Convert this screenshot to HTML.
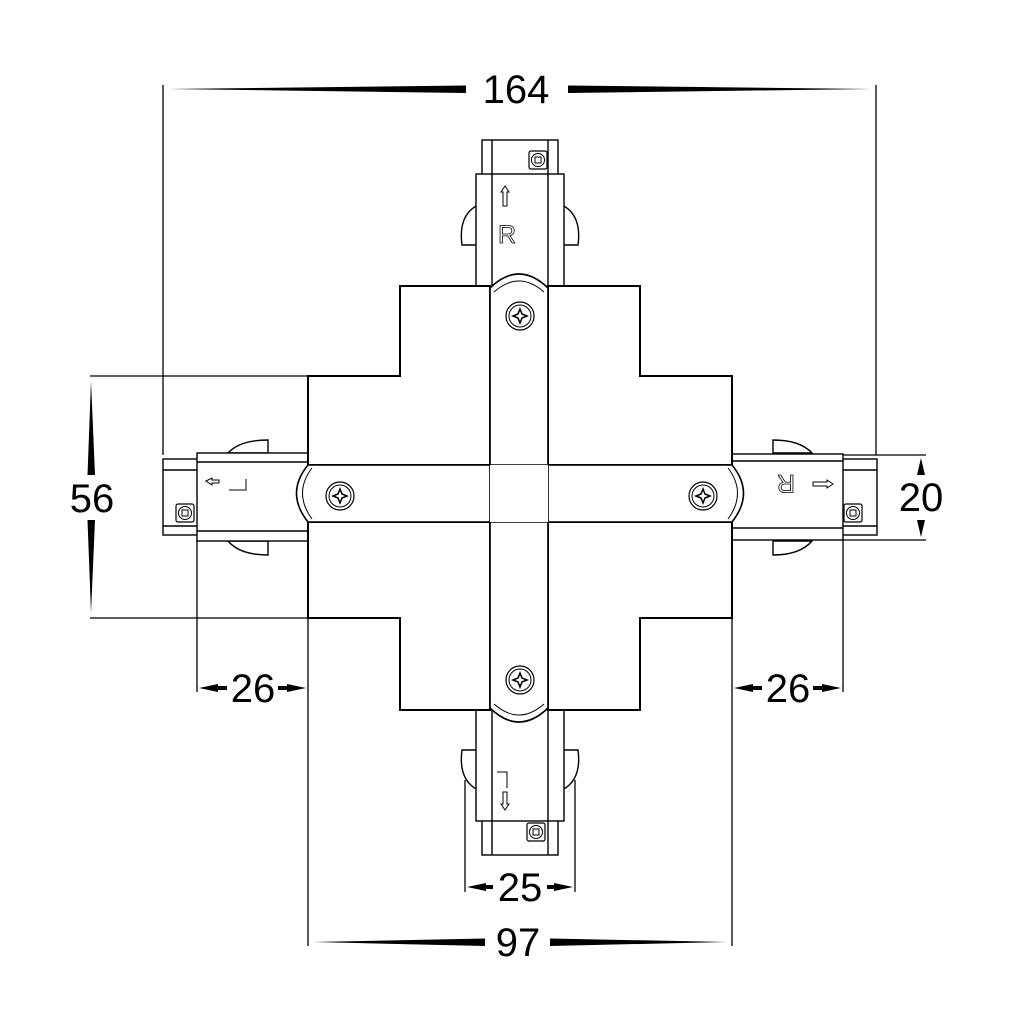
<!DOCTYPE html>
<html><head><meta charset="utf-8"><style>html,body{margin:0;padding:0;background:#fff}svg{display:block}</style></head><body>
<svg width="1024" height="1024" viewBox="0 0 1024 1024" xmlns="http://www.w3.org/2000/svg" font-family="Liberation Sans, sans-serif">
<defs>
<g id="scr"><circle r="14" fill="#fff" stroke="#000" stroke-width="1.2"/><circle r="11" fill="none" stroke="#000" stroke-width="1"/><path d="M0,-7 L2,-2 L7,0 L2,2 L0,7 L-2,2 L-7,0 L-2,-2Z" fill="none" stroke="#000" stroke-width="1.5"/></g>
<g id="ss"><rect x="-9" y="-9" width="18" height="18" rx="2" fill="#fff" stroke="#000" stroke-width="1.2"/><circle r="6.5" fill="none" stroke="#000" stroke-width="1"/><rect x="-3" y="-3" width="6" height="6" fill="none" stroke="#000" stroke-width="1"/></g>
</defs>
<g fill="none" stroke="#000" stroke-width="1.3">
<line x1="163" y1="85" x2="163" y2="455"/><line x1="876" y1="85" x2="876" y2="455"/>
<line x1="90" y1="376" x2="308" y2="376"/><line x1="90" y1="618" x2="308" y2="618"/>
<line x1="843" y1="455" x2="926" y2="455"/><line x1="843" y1="540" x2="926" y2="540"/>
<line x1="197" y1="540" x2="197" y2="692"/><line x1="843" y1="540" x2="843" y2="692"/>
<line x1="308" y1="618" x2="308" y2="946"/><line x1="732" y1="618" x2="732" y2="946"/>
<line x1="465" y1="780" x2="465" y2="892"/><line x1="575" y1="780" x2="575" y2="892"/>
</g>
<g fill="#000">
<polygon points="168,89 466,85.5 466,93"/><polygon points="871,89 568,85.5 568,93"/>
<polygon points="313,942 485,938.5 485,946"/><polygon points="727,942 550,938.5 550,946"/>
<polygon points="91,381 87.5,475 95,475"/><polygon points="91,613 87.5,520 95,520"/>
<polygon points="921,458 917,475 925,475"/><polygon points="921,537 917,520 925,520"/>
<polygon points="199,688 218,684 218,692"/><rect x="217" y="686" width="10" height="4"/>
<polygon points="306,688 287,684 287,692"/><rect x="278" y="686" width="10" height="4"/>
<polygon points="734,688 753,684 753,692"/><rect x="752" y="686" width="10" height="4"/>
<polygon points="841,688 822,684 822,692"/><rect x="813" y="686" width="10" height="4"/>
<polygon points="467,887 486,883 486,891"/><rect x="485" y="885" width="8" height="4"/>
<polygon points="573,887 554,883 554,891"/><rect x="547" y="885" width="8" height="4"/>
</g>
<g font-size="40" text-anchor="middle" fill="#000">
<text x="516" y="103">164</text>
<text x="92" y="512">56</text>
<text x="921" y="511">20</text>
<text x="253" y="702">26</text>
<text x="788" y="702">26</text>
<text x="520" y="901">25</text>
<text x="518" y="956">97</text>
</g>
<g fill="#fff" stroke="#000" stroke-width="1.4">
<path d="M462,245 Q458,215 478,205 L478,245Z"/><path d="M578,245 Q582,215 562,205 L562,245Z"/>
<rect x="482" y="140" width="76" height="35"/>
<line x1="492" y1="140" x2="492" y2="175"/><line x1="548" y1="140" x2="548" y2="175"/>
<rect x="476" y="174" width="88" height="114"/>
<line x1="492" y1="174" x2="492" y2="288"/><line x1="548" y1="174" x2="548" y2="288"/>
<path d="M462,750 Q458,780 478,790 L478,750Z"/><path d="M578,750 Q582,780 562,790 L562,750Z"/>
<rect x="482" y="820" width="76" height="35"/>
<line x1="492" y1="820" x2="492" y2="855"/><line x1="548" y1="820" x2="548" y2="855"/>
<rect x="476" y="708" width="88" height="113"/>
<line x1="492" y1="708" x2="492" y2="821"/><line x1="548" y1="708" x2="548" y2="821"/>
<path d="M228,453 Q240,440 268,440 L268,453Z"/><path d="M228,541 Q240,555 268,555 L268,541Z"/>
<rect x="163" y="459" width="35" height="76"/>
<line x1="163" y1="470" x2="198" y2="470"/><line x1="163" y1="526" x2="198" y2="526"/>
<rect x="197" y="453" width="112" height="88"/>
<line x1="197" y1="462" x2="309" y2="462"/><line x1="197" y1="531" x2="309" y2="531"/>
<path d="M812,453 Q800,440 773,440 L773,453Z"/><path d="M812,541 Q800,555 773,555 L773,541Z"/>
<rect x="842" y="459" width="35" height="76"/>
<line x1="842" y1="470" x2="877" y2="470"/><line x1="842" y1="526" x2="877" y2="526"/>
<rect x="731" y="454" width="112" height="86"/>
<line x1="731" y1="461" x2="843" y2="461"/><line x1="731" y1="528" x2="843" y2="528"/>
</g>
<g fill="#fff" stroke="#000" stroke-width="2">
<path d="M400,286 L490,286 L490,465 L308,465 L308,376 L400,376Z"/>
<path d="M640,286 L548,286 L548,465 L732,465 L732,376 L640,376Z"/>
<path d="M400,710 L490,710 L490,522 L308,522 L308,618 L400,618Z"/>
<path d="M640,710 L548,710 L548,522 L732,522 L732,618 L640,618Z"/>
</g>
<g fill="#fff" stroke="#000" stroke-width="1.6">
<path d="M490,288 Q519,260 548,288 L548,465 L490,465Z"/>
<path d="M490,708 Q519,736 548,708 L548,522 L490,522Z"/>
<path d="M308,465 Q285,493 308,522 L490,522 L490,465Z"/>
<path d="M732,465 Q755,493 732,522 L548,522 L548,465Z"/>
<rect x="490" y="465" width="58" height="57" stroke="none"/>
</g>
<g fill="none" stroke="#000" stroke-width="1">
<path d="M494,292 Q519,270 544,292"/><path d="M494,704 Q519,726 544,704"/>
<path d="M312,468 Q293,493 312,519"/><path d="M728,468 Q747,493 728,519"/>
</g>
<use href="#scr" x="520" y="316"/><use href="#scr" x="520" y="680"/>
<use href="#scr" x="340" y="496"/><use href="#scr" x="703" y="496"/>
<use href="#ss" x="538" y="160"/><use href="#ss" x="536" y="832"/>
<use href="#ss" x="185" y="513"/><use href="#ss" x="853" y="513"/>
<g fill="none" stroke="#000" stroke-width="1">
<path d="M505,186 L509,192 L507,192 L507,206 L503,206 L503,192 L501,192Z"/>
<path d="M505,810 L509,804 L507,804 L507,792 L503,792 L503,804 L501,804Z"/>
<path d="M206,481 L212,478 L212,480 L219,480 L219,483 L212,483 L212,485Z"/>
<path d="M833,484 L827,480 L827,482 L813,482 L813,486 L827,486 L827,488Z"/>
<path d="M229,490 L246,490 L246,479"/>
<path d="M497,772 L507,772 L507,788"/>
</g>
<text x="507" y="243" font-size="25" text-anchor="middle" fill="none" stroke="#000" stroke-width="0.8">R</text>
<text x="786" y="493" font-size="25" text-anchor="middle" fill="none" stroke="#000" stroke-width="0.8" transform="rotate(180 786 484)">R</text>
</svg>
</body></html>
